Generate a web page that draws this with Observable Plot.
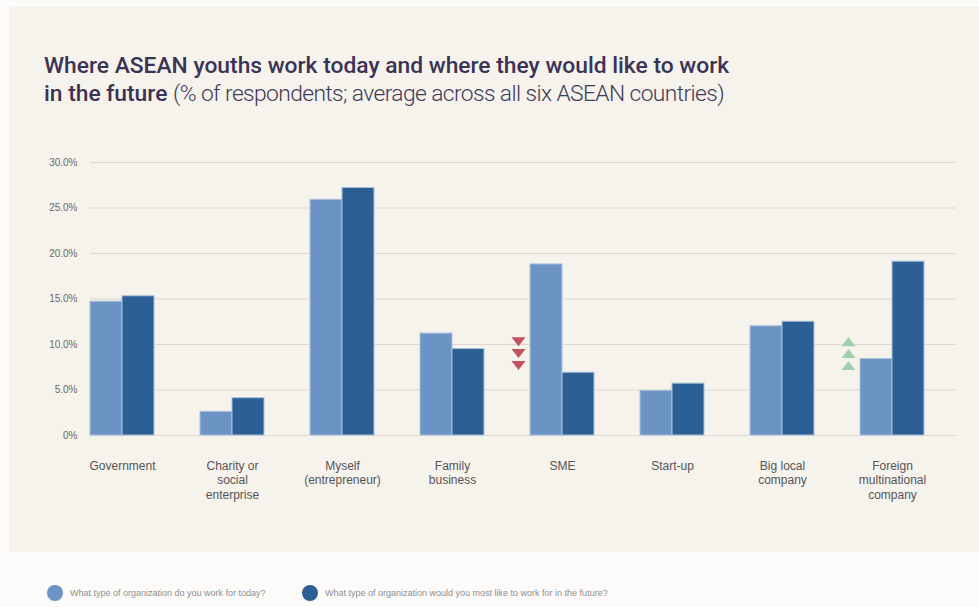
<!DOCTYPE html>
<html>
<head>
<meta charset="utf-8">
<script src="https://cdn.jsdelivr.net/npm/d3@7"></script>
<script src="https://cdn.jsdelivr.net/npm/@observablehq/plot@0.6"></script>
<style>
  html, body { margin: 0; padding: 0; background: #ffffff; }
  #root { position: relative; width: 979px; height: 607px; background: #fcfbf9; overflow: hidden; }
  #panel { position: absolute; left: 9px; top: 7px; width: 970px; height: 545px; background: #f6f2ec; }
  #title { position: absolute; left: 44px; top: 52px; font-family: Roboto, "Liberation Sans", sans-serif; font-size: 22.8px; line-height: 28px; color: #3b3356; font-weight: 500; white-space: nowrap; }
  #title .sub { font-weight: 300; color: #3f3a55; letter-spacing: -0.6px; }
  #chart { position: absolute; left: 0; top: 140px; }
  #legend { position: absolute; left: 0; top: 585px; width: 979px; height: 18px; font-family: "Liberation Sans", Arial, sans-serif; font-size: 9px; color: #8f8f8f; }
  .li { position: absolute; top: 0; display: flex; align-items: center; height: 16px; }
  .sw { width: 16px; height: 16px; border-radius: 50%; margin-right: 7px; }
</style>
</head>
<body>
<div id="root">
  <div id="panel"></div>
  <div id="title">Where ASEAN youths work today and where they would like to work<br>in the future <span class="sub">(% of respondents; average across all six ASEAN countries)</span></div>
  <div id="chart"></div>
  <div id="legend"></div>
</div>
<script>
// ---- data ----
const categories = ["Government", "Charity or social enterprise", "Myself (entrepreneur)", "Family business", "SME", "Start-up", "Big local company", "Foreign multinational company"];
const categoryLabels = ["Government", "Charity or\nsocial\nenterprise", "Myself\n(entrepreneur)", "Family\nbusiness", "SME", "Start-up", "Big local\ncompany", "Foreign\nmultinational\ncompany"];
const todayValues  = [14.7, 2.6, 25.9, 11.2, 18.8, 4.9, 12.0, 8.4];
const futureValues = [15.3, 4.1, 27.2, 9.5, 6.9, 5.7, 12.5, 19.1];
const seriesNames = ["What type of organization do you work for today?", "What type of organization would you most like to work for in the future?"];
const yTicks = [0, 5, 10, 15, 20, 25, 30];
const yTickLabels = ["0%", "5.0%", "10.0%", "15.0%", "20.0%", "25.0%", "30.0%"];
const indicatorCategories = ["SME", "Foreign multinational company"];
const indicatorDirections = ["down", "up"];
const indicatorLevels = [10.3, 9.0, 7.7];

// ---- styles ----
const lightColor = "#6b94c4";
const darkColor = "#2c5f93";
const outline = "#a9c1dc";

const rows = categories.map((c, i) => ({category: c, today: todayValues[i], future: futureValues[i]}));
const labelOf = new Map(categories.map((c, i) => [c, categoryLabels[i]]));
const tickLabelOf = new Map(yTicks.map((t, i) => [t, yTickLabels[i]]));
const indicators = [];
indicatorCategories.forEach((c, i) => indicatorLevels.forEach(l => indicators.push({category: c, level: l, dir: indicatorDirections[i]})));

const triDown = {draw(ctx) { ctx.moveTo(-7, -4.5); ctx.lineTo(7, -4.5); ctx.lineTo(0, 4.5); ctx.closePath(); }};
const triUp = {draw(ctx) { ctx.moveTo(-7, 4.5); ctx.lineTo(7, 4.5); ctx.lineTo(0, -4.5); ctx.closePath(); }};

const chart = Plot.plot({
  width: 979,
  height: 380,
  marginLeft: 90,
  marginRight: 23,
  marginTop: 22,
  marginBottom: 85,
  style: {background: "transparent", fontFamily: "'Liberation Sans', Arial, sans-serif"},
  x: {domain: categories, paddingInner: 0.42, paddingOuter: 0.139, align: 0.0, axis: null},
  y: {domain: [0, 30], axis: null},
  marks: [
    Plot.ruleY(yTicks, {stroke: "#dcd7d0", strokeWidth: 1}),
    Plot.axisY(yTicks, {tickSize: 0, tickPadding: 13, fontSize: 10, fill: "#6a6a6a", tickFormat: d => tickLabelOf.get(d), label: null}),
    Plot.axisX({tickSize: 0, tickPadding: 24, fontSize: 12, lineHeight: 1.2, fill: "#555555", tickFormat: d => labelOf.get(d), label: null}),
    Plot.barY(rows, {x: "category", y: "today", fill: lightColor, stroke: outline, strokeWidth: 1, insetRight: 32}),
    Plot.barY(rows, {x: "category", y: "future", fill: darkColor, stroke: outline, strokeWidth: 1, insetLeft: 32}),
    Plot.dot(indicators.filter(d => d.dir === "down"), {x: "category", y: "level", symbol: triDown, r: 5, fill: "#c2545e", stroke: "none", dx: -44}),
    Plot.dot(indicators.filter(d => d.dir === "up"), {x: "category", y: "level", symbol: triUp, r: 5, fill: "#9fd0ab", stroke: "none", dx: -44})
  ]
});
document.getElementById("chart").appendChild(chart);

// legend
const legend = document.getElementById("legend");
[[lightColor, 47], [darkColor, 302]].forEach(([col, left], i) => {
  const item = document.createElement("div");
  item.className = "li";
  item.style.left = left + "px";
  item.innerHTML = `<span class="sw" style="background:${col}"></span><span>${seriesNames[i]}</span>`;
  legend.appendChild(item);
});
</script>
</body>
</html>
